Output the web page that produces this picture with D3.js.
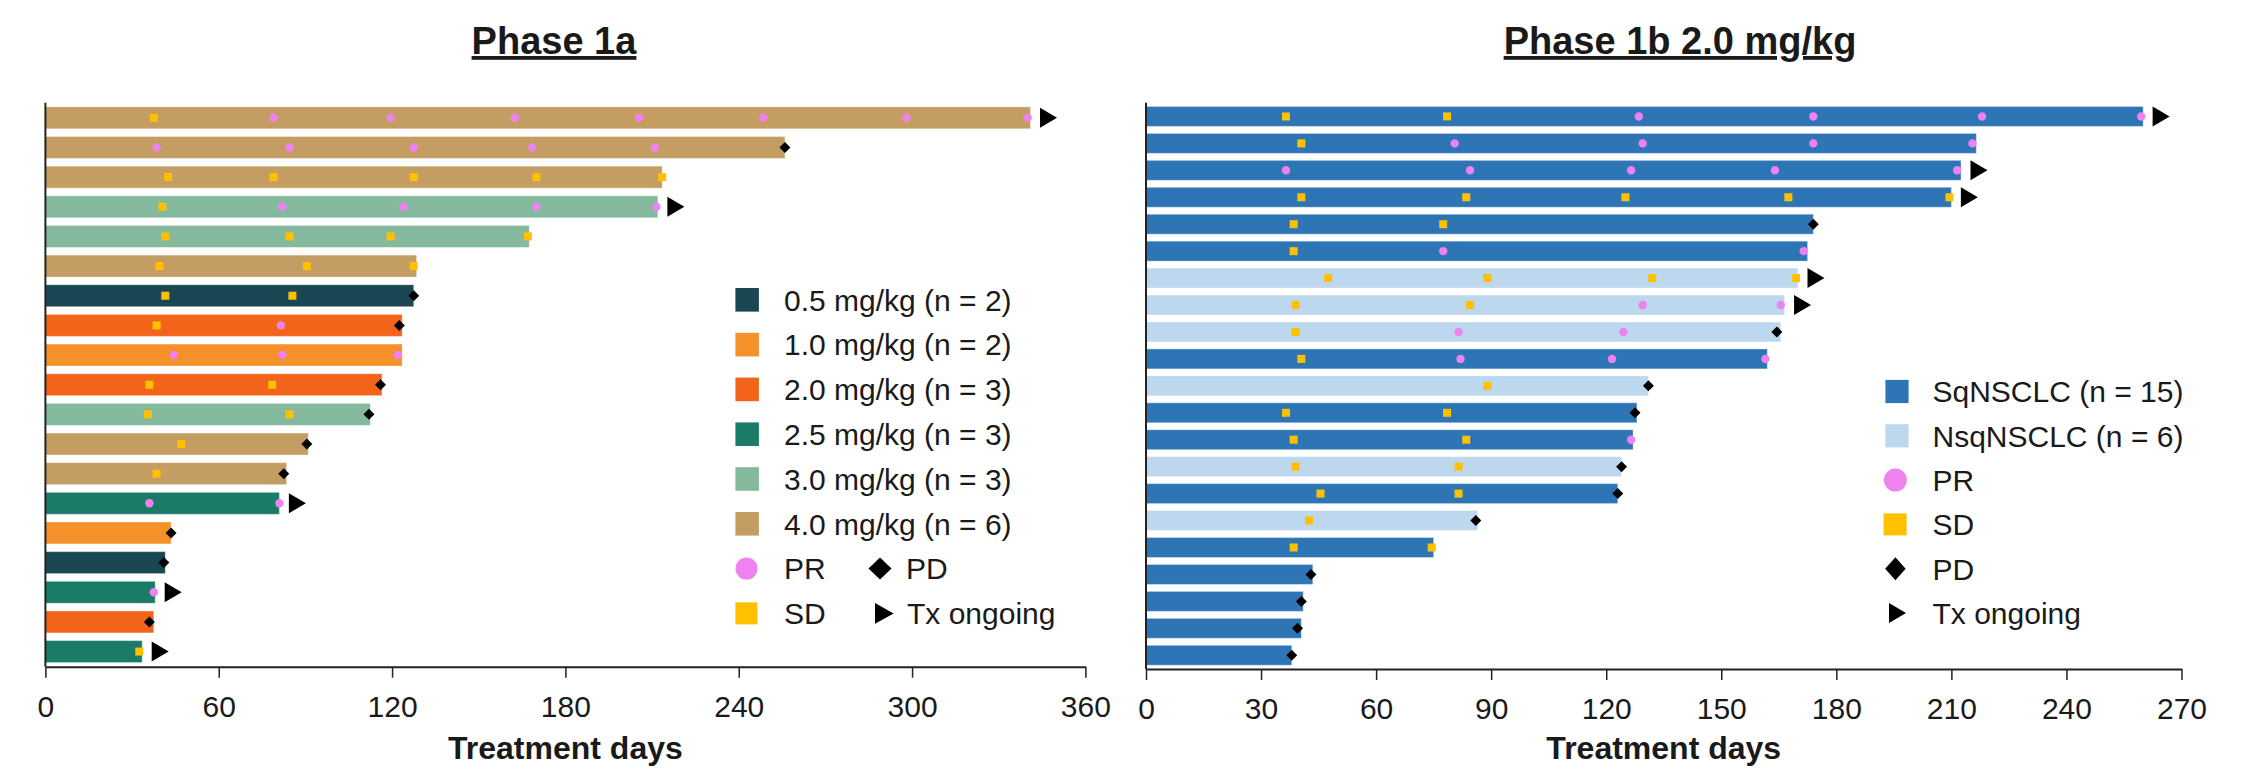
<!DOCTYPE html>
<html>
<head>
<meta charset="utf-8">
<script src="https://cdn.jsdelivr.net/npm/d3@7"></script>
<style>
  body { margin: 0; background: #fff; }
  text { font-family: Arial, "Liberation Sans", sans-serif; fill: #1a1a1a; }
</style>
</head>
<body>
<svg id="chart" width="2261" height="780"></svg>
<script>
// Phase 1a, one entry per patient (top to bottom)
const phase1aDose = ["4.0", "4.0", "4.0", "3.0", "3.0", "4.0", "0.5", "2.0", "1.0", "2.0",
    "3.0", "4.0", "4.0", "2.5", "1.0", "0.5", "2.5", "2.0", "2.5"];
const phase1aDays = [341, 256, 213.5, 212, 167.5, 128.5, 127.5, 123.5, 123.5, 116.5,
    112.5, 91, 83.5, 81, 43.5, 41.5, 38, 37.5, 33.5];
const phase1aPR = [[79, 119.5, 162.5, 205.5, 248.5, 298, 340], [38.5, 84.5, 127.5, 168.5, 211], [],
    [82, 124, 170, 211.5], [], [], [], [81.5], [44.5, 82, 122], [], [], [], [], [36, 81], [], [], [37.5], [], []];
const phase1aSD = [[37.5], [], [42.5, 79, 127.5, 170, 213.5], [40.5], [41.5, 84.5, 119.5, 167],
    [39.5, 90.5, 127.5], [41.5, 85.5], [38.5], [], [36, 78.5], [35.5, 84.5], [47], [38.5], [], [], [], [], [], [32.5]];
const phase1aPD = [null, 256, null, null, null, null, 127.5, 122.5, null, 116,
    112, 90.5, 82.5, null, 43.5, 41, null, 36, null];
const phase1aOngoing = [true, false, false, true, false, false, false, false, false, false,
    false, false, false, true, false, false, true, false, true];
const doseLabels = ["0.5 mg/kg (n = 2)", "1.0 mg/kg (n = 2)", "2.0 mg/kg (n = 3)",
    "2.5 mg/kg (n = 3)", "3.0 mg/kg (n = 3)", "4.0 mg/kg (n = 6)"];
const doseKeys = ["0.5", "1.0", "2.0", "2.5", "3.0", "4.0"];
const phase1aTicks = [0, 60, 120, 180, 240, 300, 360];

// Phase 1b 2.0 mg/kg
const phase1bType = ["Sq", "Sq", "Sq", "Sq", "Sq", "Sq", "Nsq", "Nsq", "Nsq", "Sq", "Nsq",
    "Sq", "Sq", "Nsq", "Sq", "Nsq", "Sq", "Sq", "Sq", "Sq", "Sq"];
const phase1bDays = [260, 216.5, 212.5, 210, 174, 172.5, 170, 166.5, 165.5, 162, 131,
    128, 127, 124, 123, 86.5, 75, 43.5, 41, 40.5, 38];
const phase1bPR = [[128.5, 174, 218, 259.5], [80.5, 129.5, 174, 215.5], [36.5, 84.5, 126.5, 164, 211.5],
    [], [], [77.5, 171.5], [], [129.5, 165.5], [81.5, 124.5], [82, 121.5, 161.5], [],
    [], [126.5], [], [], [], [], [], [], [], []];
const phase1bSD = [[36.5, 78.5], [40.5], [], [40.5, 83.5, 125, 167.5, 209.5], [38.5, 77.5], [38.5],
    [47.5, 89, 132, 169.5], [39, 84.5], [39], [40.5], [89], [36.5, 78.5], [38.5, 83.5],
    [39, 81.5], [45.5, 81.5], [42.5], [38.5, 74.5], [], [], [], []];
const phase1bPD = [null, null, null, null, 174, null, null, null, 164.5, null, 131,
    127.5, null, 124, 123, 86, null, 43, 40.5, 39.5, 38];
const phase1bOngoing = [true, false, true, true, false, false, true, true, false, false, false,
    false, false, false, false, false, false, false, false, false, false];
const typeLabels = ["SqNSCLC (n = 15)", "NsqNSCLC (n = 6)"];
const typeKeys = ["Sq", "Nsq"];
const phase1bTicks = [0, 30, 60, 90, 120, 150, 180, 210, 240, 270];

const doseColor = d3.scaleOrdinal().domain(doseKeys)
    .range(["#1b4754", "#f4912b", "#f26419", "#1a7b66", "#84b99e", "#c49d62"]);
const typeColor = d3.scaleOrdinal().domain(typeKeys).range(["#2e75b6", "#bdd7ee"]);
const PR_COLOR = "#ee82ee";
const SD_COLOR = "#ffc000";

const svg = d3.select("#chart");

function diamond(cx, cy, w, h) {
    return `M${cx},${cy - h / 2}L${cx + w / 2},${cy}L${cx},${cy + h / 2}L${cx - w / 2},${cy}Z`;
}
function triangle(x, cy, w, h) {
    return `M${x},${cy - h / 2}L${x + w},${cy}L${x},${cy + h / 2}Z`;
}

function drawPanel(p) {
    const g = svg.append("g");
    const n = p.days.length;
    const x = d3.scaleLinear().domain([0, p.max]).range([p.x0, p.x1]);
    const y = d3.scaleBand().domain(d3.range(n)).range([p.top, p.bottom])
        .paddingInner(0.26).paddingOuter(0.14);
    const bh = y.bandwidth();

    // bars, with the faint light edge seen in the original
    g.selectAll("rect.bar").data(d3.range(n)).join("rect")
        .attr("class", "bar")
        .attr("x", x(0))
        .attr("y", i => y(i))
        .attr("width", i => x(p.days[i]) - x(0))
        .attr("height", bh)
        .attr("fill", i => p.color(i))
        .attr("stroke", "#fff").attr("stroke-opacity", 0.35).attr("stroke-width", 1);

    const pts = (arr) => arr.flatMap((vals, i) => vals.map(v => ({i, v})));

    g.selectAll("rect.sd").data(pts(p.sd)).join("rect")
        .attr("class", "sd")
        .attr("x", d => x(d.v) - 4).attr("y", d => y(d.i) + bh / 2 - 4)
        .attr("width", 8).attr("height", 8)
        .attr("fill", SD_COLOR);

    g.selectAll("circle.pr").data(pts(p.pr)).join("circle")
        .attr("class", "pr")
        .attr("cx", d => x(d.v)).attr("cy", d => y(d.i) + bh / 2)
        .attr("r", 4.2)
        .attr("fill", PR_COLOR);

    g.selectAll("path.pd").data(d3.range(n).filter(i => p.pd[i] != null)).join("path")
        .attr("class", "pd")
        .attr("d", i => diamond(x(p.pd[i]), y(i) + bh / 2, 11, 11))
        .attr("fill", "#000");

    g.selectAll("path.ongoing").data(d3.range(n).filter(i => p.ongoing[i])).join("path")
        .attr("class", "ongoing")
        .attr("d", i => triangle(x(p.days[i]) + 9.5, y(i) + bh / 2, 17, 20))
        .attr("fill", "#000");

    // axes
    g.append("line")
        .attr("x1", p.x0).attr("x2", p.x0)
        .attr("y1", p.top).attr("y2", p.bottom)
        .attr("stroke", "#222").attr("stroke-width", 2);

    const axis = g.append("g")
        .attr("transform", `translate(0,${p.bottom})`)
        .call(d3.axisBottom(x).tickValues(p.ticks).tickSize(11).tickSizeOuter(0).tickPadding(18));
    axis.select(".domain").attr("stroke", "#222").attr("stroke-width", 2);
    axis.selectAll(".tick line").attr("stroke", "#222").attr("stroke-width", 1.5);
    axis.selectAll(".tick text")
        .style("font-family", "Arial, 'Liberation Sans', sans-serif")
        .style("font-size", "30px").attr("fill", "#1a1a1a");

    g.append("text")
        .attr("x", (p.x0 + p.x1) / 2).attr("y", 759)
        .attr("text-anchor", "middle")
        .style("font-size", "32px").style("font-weight", "bold")
        .text("Treatment days");

    g.append("text")
        .attr("x", p.titleX).attr("y", 54)
        .attr("text-anchor", "middle")
        .style("font-size", "38px").style("font-weight", "bold")
        .style("text-decoration", "underline")
        .text(p.title);

    return g;
}

// Phase 1a panel
const left = drawPanel({
    title: "Phase 1a", titleX: 554,
    days: phase1aDays, pr: phase1aPR, sd: phase1aSD, pd: phase1aPD, ongoing: phase1aOngoing,
    color: i => doseColor(phase1aDose[i]),
    max: 360, ticks: phase1aTicks,
    x0: 45.4, x1: 1085.4, top: 102.7, bottom: 666.7
});

// Phase 1b panel
const right = drawPanel({
    title: "Phase 1b 2.0 mg/kg", titleX: 1680,
    days: phase1bDays, pr: phase1bPR, sd: phase1bSD, pd: phase1bPD, ongoing: phase1bOngoing,
    color: i => typeColor(phase1bType[i]),
    max: 270, ticks: phase1bTicks,
    x0: 1146, x1: 2181.5, top: 102.7, bottom: 669
});

// legend, left
const legL = left.append("g");
const rowL = i => 299.8 + i * 44.8;
doseKeys.forEach((k, i) => {
    legL.append("rect").attr("x", 735.4).attr("y", rowL(i) - 11.8)
        .attr("width", 23.5).attr("height", 23.6).attr("fill", doseColor(k));
    legL.append("text").attr("x", 784).attr("y", rowL(i)).attr("dy", "0.36em")
        .style("font-size", "30px").text(doseLabels[i]);
});
legL.append("circle").attr("cx", 746.5).attr("cy", rowL(6)).attr("r", 11).attr("fill", PR_COLOR);
legL.append("text").attr("x", 784).attr("y", rowL(6)).attr("dy", "0.36em").style("font-size", "30px").text("PR");
legL.append("path").attr("d", diamond(880, rowL(6), 23, 22)).attr("fill", "#000");
legL.append("text").attr("x", 906).attr("y", rowL(6)).attr("dy", "0.36em").style("font-size", "30px").text("PD");
legL.append("rect").attr("x", 735.4).attr("y", rowL(7) - 11).attr("width", 22).attr("height", 22).attr("fill", SD_COLOR);
legL.append("text").attr("x", 784).attr("y", rowL(7)).attr("dy", "0.36em").style("font-size", "30px").text("SD");
legL.append("path").attr("d", triangle(875, rowL(7), 18.6, 20.7)).attr("fill", "#000");
legL.append("text").attr("x", 907).attr("y", rowL(7)).attr("dy", "0.36em").style("font-size", "30px").text("Tx ongoing");

// legend, right
const legR = right.append("g");
const rowR = i => 391.5 + i * 44.3;
typeKeys.forEach((k, i) => {
    legR.append("rect").attr("x", 1885.4).attr("y", rowR(i) - 11.6)
        .attr("width", 23.2).attr("height", 23.2).attr("fill", typeColor(k));
    legR.append("text").attr("x", 1932.5).attr("y", rowR(i)).attr("dy", "0.36em")
        .style("font-size", "30px").text(typeLabels[i]);
});
legR.append("circle").attr("cx", 1895.4).attr("cy", rowR(2)).attr("r", 11.5).attr("fill", PR_COLOR);
legR.append("rect").attr("x", 1883.6).attr("y", rowR(3) - 11).attr("width", 23).attr("height", 22).attr("fill", SD_COLOR);
legR.append("path").attr("d", diamond(1895.4, rowR(4), 20.5, 23)).attr("fill", "#000");
legR.append("path").attr("d", triangle(1889, rowR(5), 17, 20)).attr("fill", "#000");
["PR", "SD", "PD", "Tx ongoing"].forEach((t, i) => {
    legR.append("text").attr("x", 1932.5).attr("y", rowR(i + 2)).attr("dy", "0.36em")
        .style("font-size", "30px").text(t);
});
</script>
</body>
</html>
